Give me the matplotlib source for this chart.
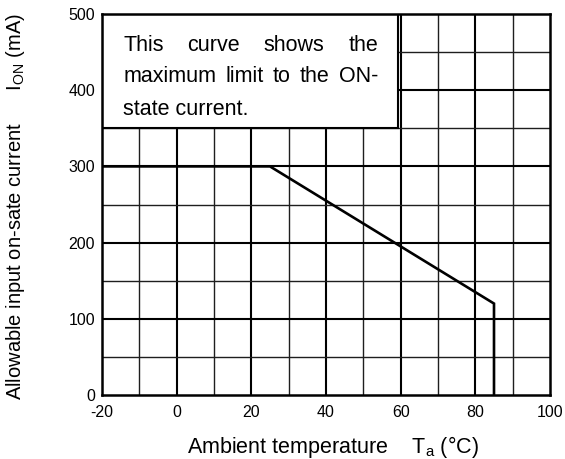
import matplotlib
matplotlib.use("Agg")
import matplotlib.pyplot as plt
from matplotlib.patches import Rectangle
import numpy as np

plt.rcParams['font.family'] = ['Liberation Sans', 'DejaVu Sans']
plt.rcParams['mathtext.fontset'] = 'custom'
plt.rcParams['mathtext.rm'] = 'Liberation Sans'
plt.rcParams['axes.unicode_minus'] = False

# Data
temp_c = [-20, 25, 85, 85]
current_ma = [300, 300, 120, 0]
x_ticks = [-20, 0, 20, 40, 60, 80, 100]
y_ticks = [0, 100, 200, 300, 400, 500]
note_lines = [["This", "curve", "shows", "the"],
              ["maximum", "limit", "to", "the", "ON-"],
              ["state current."]]

fig = plt.figure(figsize=(5.65, 4.59), dpi=100)
ax = fig.add_axes([102/565, 1 - 395/459, 448/565, 381/459])
ax.set_xlim(-20, 100)
ax.set_ylim(0, 500)

# grid
for xv in np.arange(-10, 100, 10):
    major = (xv % 20 == 0)
    ax.axvline(xv, color='black' if major else '#1e1e1e',
               lw=1.5 if major else 1.0, zorder=1)
for yv in np.arange(50, 500, 50):
    major = (yv % 100 == 0)
    ax.axhline(yv, color='black' if major else '#1e1e1e',
               lw=1.5 if major else 1.0, zorder=1)

ax.plot(temp_c, current_ma, color='black', lw=1.9, zorder=3,
        solid_joinstyle='miter')

# note box
ax.add_patch(Rectangle((-20, 350), 79.4, 150, facecolor='white',
                       edgecolor='black', lw=1.5, zorder=4))

ax.set_xticks(x_ticks)
ax.set_yticks(y_ticks)
ax.tick_params(length=0, labelsize=11.5)
ax.tick_params(axis='x', pad=7)
ax.tick_params(axis='y', pad=5)
for s in ax.spines.values():
    s.set_linewidth(1.8)
    s.set_zorder(5)

ax.set_xlabel("Ambient temperature    T$_\\mathregular{a}$ (°C)", fontsize=15.5)
ax.set_ylabel("Allowable input on-sate current      I$_\\mathregular{ON}$ (mA)", fontsize=14.5)
ax.xaxis.set_label_coords(0.516, -0.103)
ax.yaxis.set_label_coords(-0.168, 0.494)

# justified note text
fig.canvas.draw()
renderer = fig.canvas.get_renderer()
x_left, x_right = -14.3, 53.9
baselines = [451.4, 410.8, 367.5]
inv = ax.transData.inverted()
for words, yb in zip(note_lines, baselines):
    texts = [ax.text(0, yb, w, fontsize=15.5, va='baseline', ha='left', zorder=6)
             for w in words]
    widths = [t.get_window_extent(renderer).width for t in texts]
    px_left = ax.transData.transform((x_left, yb))[0]
    px_right = ax.transData.transform((x_right, yb))[0]
    if len(words) > 1:
        gap = (px_right - px_left - sum(widths)) / (len(words) - 1)
    else:
        gap = 0
    cur = px_left
    for t, w in zip(texts, widths):
        t.set_x(inv.transform((cur, 0))[0])
        cur += w + gap

fig.savefig("out.png", dpi=100)
